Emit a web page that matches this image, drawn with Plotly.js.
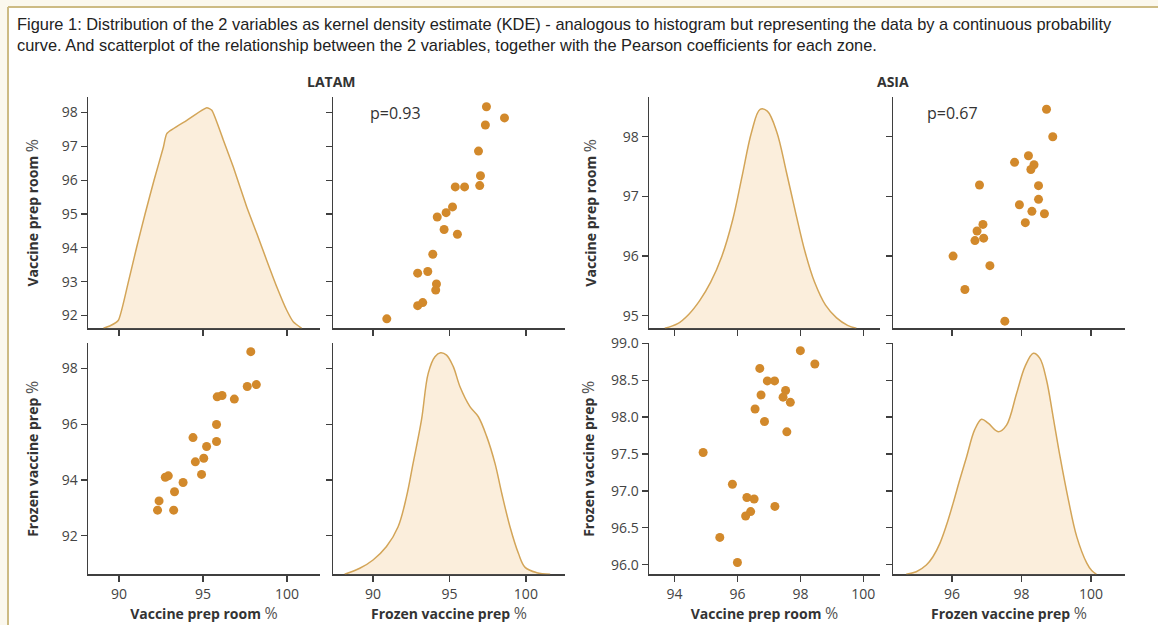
<!DOCTYPE html>
<html>
<head>
<meta charset="utf-8">
<script src="https://cdn.plot.ly/plotly-3.0.1.min.js"></script>
<style>
  html, body { margin: 0; padding: 0; background: #ffffff; }
  #chart { width: 1158px; height: 625px; }
</style>
</head>
<body>
<div id="chart"></div>
<script>
// ---------------- DATA ----------------
const zones = ["LATAM", "ASIA"];
const varNames = ["Vaccine prep room", "Frozen vaccine prep"];
const pearson = ["p=0.93", "p=0.67"];

// LATAM sites: vaccine prep room % and frozen vaccine prep %
const latamVaccine = [98.17, 97.84, 97.63, 96.86, 96.13, 95.84, 95.80, 95.80, 95.21, 95.04, 94.91,
                      94.54, 94.40, 93.81, 93.25, 93.30, 92.93, 92.75, 92.29, 92.38, 91.90];
const latamFrozen  = [97.42, 98.60, 97.35, 96.90, 97.03, 96.98, 95.38, 95.99, 95.20, 94.78, 94.20,
                      94.65, 95.52, 93.91, 92.92, 93.58, 94.15, 94.10, 92.92, 93.25, 90.90];
// the lower LATAM scatter of the reference shows only the first 20 sites
const latamLowerCount = 20;

// ASIA sites
const asiaVaccine = [98.46, 98.00, 97.68, 97.57, 97.53, 97.45, 97.19, 97.18, 96.95, 96.86, 96.75,
                     96.71, 96.56, 96.53, 96.42, 96.30, 96.26, 96.00, 95.84, 95.44, 94.91];
const asiaFrozen  = [98.72, 98.90, 98.20, 97.80, 98.36, 98.27, 96.79, 98.49, 98.49, 97.94, 98.30,
                     98.66, 98.11, 96.89, 96.72, 96.91, 96.66, 96.03, 97.09, 96.37, 97.52];

// KDE curves (value, relative density 0..1 of panel height)
const latamVaccineKdeX = [89.07, 89.5, 89.96, 90.55, 91.05, 91.55, 92.08, 92.64, 92.84, 94.03, 95.22, 95.52,
                          96.21, 96.80, 97.60, 98.20, 98.79, 99.39, 99.98, 100.38, 100.87];
const latamVaccineKdeY = [0.0, 0.012, 0.035, 0.20, 0.352, 0.496, 0.641, 0.785, 0.843, 0.900, 0.955, 0.944,
                          0.814, 0.698, 0.525, 0.410, 0.294, 0.179, 0.078, 0.027, 0.0];

const latamFrozenKdeX = [88.14, 89.13, 90.00, 90.88, 91.64, 92.19, 92.62, 93.17, 93.61, 94.05, 94.42, 94.81,
                         95.25, 95.69, 96.34, 96.89, 97.44, 97.98, 98.42, 98.96, 99.51, 99.95, 100.71, 101.59];
const latamFrozenKdeY = [0.0, 0.026, 0.062, 0.120, 0.206, 0.336, 0.480, 0.668, 0.870, 0.942, 0.959, 0.949,
                         0.899, 0.812, 0.726, 0.682, 0.596, 0.480, 0.351, 0.206, 0.091, 0.030, 0.007, 0.0];

const asiaVaccineKdeX = [93.69, 94.10, 94.45, 94.80, 95.15, 95.50, 95.85, 96.15, 96.45, 96.72, 96.95,
                         97.25, 97.55, 97.85, 98.15, 98.45, 98.80, 99.15, 99.50, 99.78];
const asiaVaccineKdeY = [0.0, 0.02, 0.06, 0.12, 0.20, 0.31, 0.47, 0.66, 0.85, 0.948, 0.94,
                         0.85, 0.68, 0.50, 0.33, 0.20, 0.10, 0.045, 0.013, 0.0];

const asiaFrozenKdeX = [94.68, 94.97, 95.26, 95.45, 95.65, 95.84, 96.03, 96.22, 96.42, 96.65, 96.85, 97.04,
                        97.33, 97.57, 97.86, 98.10, 98.34, 98.53, 98.72, 98.91, 99.11, 99.35, 99.59, 99.88,
                        100.02, 100.16];
const asiaFrozenKdeY = [0.0, 0.011, 0.040, 0.076, 0.134, 0.213, 0.307, 0.408, 0.509, 0.625, 0.671, 0.654,
                        0.617, 0.646, 0.784, 0.899, 0.957, 0.935, 0.841, 0.682, 0.509, 0.322, 0.163, 0.048,
                        0.016, 0.0];

// axis ranges
const latamVaccineRangeX = [88.15, 101.96];
const latamFrozenRangeX  = [87.38, 102.56];
const latamVaccineRangeY = [91.62, 98.45];
const latamFrozenRangeY  = [90.62, 98.90];
const asiaVaccineRangeX  = [93.19, 100.53];
const asiaFrozenRangeX   = [94.30, 100.98];
const asiaVaccineRangeY  = [94.79, 98.66];
const asiaFrozenRangeY   = [95.87, 99.00];

const titleText = "Figure 1: Distribution of the 2 variables as kernel density estimate (KDE) - analogous to histogram but representing the data by a continuous probability<br>curve. And scatterplot of the relationship between the 2 variables, together with the Pearson coefficients for each zone.";

// ---------------- STYLE ----------------
const W = 1158, H = 625;
const dot = "#D2892B";
const kdeLine = "#D3A558";
const kdeFill = "#FBEEDC";
const axisCol = "#3f3f3f";
const tickFont = { family: "Open Sans, sans-serif", size: 14, color: "#444" };
const titleFont = { family: "Open Sans, sans-serif", size: 14, color: "#333" };

const px = v => v / W;
const py = v => 1 - v / H;
const cols = [[88, 320], [333, 565], [649, 880], [893, 1125]].map(c => [px(c[0]), px(c[1])]);
const row1 = [py(328.3), py(97.3)];
const row2 = [py(574.3), py(343.3)];

function axTitle(name) {
  return "<b>" + name + "</b> <span style=\"font-size:16px;color:#555\">%</span>";
}

function xAx(domain, anchor, range, dtick, labels, title) {
  const a = {
    domain: domain, anchor: anchor, range: range, tick0: 0, dtick: dtick,
    showgrid: false, zeroline: false, showline: true, linecolor: axisCol, linewidth: 1.4,
    ticks: "outside", ticklen: 6, tickwidth: 1.3, tickcolor: axisCol,
    showticklabels: labels, tickfont: tickFont, fixedrange: true
  };
  if (title) a.title = { text: title, font: titleFont, standoff: 5 };
  return a;
}
function yAx(domain, anchor, range, dtick, labels, title, fmt, standoff) {
  const a = {
    domain: domain, anchor: anchor, range: range, tick0: 0, dtick: dtick,
    showgrid: false, zeroline: false, showline: true, linecolor: axisCol, linewidth: 1.4,
    ticks: "outside", ticklen: 6, tickwidth: 1.3, tickcolor: axisCol,
    showticklabels: labels, tickfont: tickFont, fixedrange: true
  };
  if (fmt) a.tickformat = fmt;
  if (title) a.title = { text: title, font: titleFont, standoff: standoff };
  return a;
}
// hidden density axis sharing the panel of a diagonal plot
function dens(domain, anchor) {
  return { domain: domain, anchor: anchor, range: [0, 1], visible: false, fixedrange: true,
           showgrid: false, zeroline: false };
}

function scatter(x, y, xa, ya) {
  return { type: "scatter", mode: "markers", x: x, y: y, xaxis: xa, yaxis: ya,
           marker: { color: dot, size: 9, line: { width: 0 } }, hoverinfo: "x+y", showlegend: false };
}
function kde(x, y, xa, ya, smooth) {
  return { type: "scatter", mode: "lines", x: x, y: y, xaxis: xa, yaxis: ya,
           line: { color: kdeLine, width: 1.5, shape: "spline", smoothing: smooth },
           fill: "tozeroy", fillcolor: kdeFill, hoverinfo: "skip", showlegend: false };
}

const traces = [
  kde(latamVaccineKdeX, latamVaccineKdeY, "x", "y9", 0.5),
  scatter(latamFrozen, latamVaccine, "x2", "y2"),
  scatter(latamVaccine.slice(0, latamLowerCount), latamFrozen.slice(0, latamLowerCount), "x3", "y3"),
  kde(latamFrozenKdeX, latamFrozenKdeY, "x4", "y10", 1),
  kde(asiaVaccineKdeX, asiaVaccineKdeY, "x5", "y11", 1),
  scatter(asiaFrozen, asiaVaccine, "x6", "y6"),
  scatter(asiaVaccine, asiaFrozen, "x7", "y7"),
  kde(asiaFrozenKdeX, asiaFrozenKdeY, "x8", "y12", 1),
  // empty traces so that the labelled y axes of the diagonal panels are drawn
  { type: "scatter", mode: "markers", x: [], y: [], xaxis: "x", yaxis: "y", showlegend: false },
  { type: "scatter", mode: "markers", x: [], y: [], xaxis: "x4", yaxis: "y4", showlegend: false },
  { type: "scatter", mode: "markers", x: [], y: [], xaxis: "x5", yaxis: "y5", showlegend: false },
  { type: "scatter", mode: "markers", x: [], y: [], xaxis: "x8", yaxis: "y8", showlegend: false }
];

const layout = {
  width: W, height: H,
  margin: { l: 0, r: 0, t: 0, b: 0 },
  paper_bgcolor: "#ffffff", plot_bgcolor: "rgba(0,0,0,0)",
  showlegend: false,
  font: { family: "Open Sans, sans-serif", color: "#333" },
  title: {
    text: titleText,
    x: px(17), xref: "paper", xanchor: "left",
    y: 1 - 30 / H, yref: "container", yanchor: "top",
    font: { family: "Liberation Sans Narrow, Arial Narrow, sans-serif", size: 16.4, color: "#222" }
  },
  // LATAM
  xaxis:  xAx(cols[0], "y",  latamVaccineRangeX, 5, false),
  yaxis:  yAx(row1, "x",  latamVaccineRangeY, 1, true, axTitle(varNames[0]), null, 20),
  xaxis2: xAx(cols[1], "y2", latamFrozenRangeX, 5, false),
  yaxis2: yAx(row1, "x2", latamVaccineRangeY, 1, false),
  xaxis3: xAx(cols[0], "y3", latamVaccineRangeX, 5, true, axTitle(varNames[0])),
  yaxis3: yAx(row2, "x3", latamFrozenRangeY, 2, true, axTitle(varNames[1]), null, 20),
  xaxis4: xAx(cols[1], "y4", latamFrozenRangeX, 5, true, axTitle(varNames[1])),
  yaxis4: yAx(row2, "x4", latamFrozenRangeY, 2, false),
  // ASIA
  xaxis5: xAx(cols[2], "y5", asiaVaccineRangeX, 2, false),
  yaxis5: yAx(row1, "x5", asiaVaccineRangeY, 1, true, axTitle(varNames[0]), null, 23),
  xaxis6: xAx(cols[3], "y6", asiaFrozenRangeX, 2, false),
  yaxis6: yAx(row1, "x6", asiaVaccineRangeY, 1, false),
  xaxis7: xAx(cols[2], "y7", asiaVaccineRangeX, 2, true, axTitle(varNames[0])),
  yaxis7: yAx(row2, "x7", asiaFrozenRangeY, 0.5, true, axTitle(varNames[1]), ".1f", 13),
  xaxis8: xAx(cols[3], "y8", asiaFrozenRangeX, 2, true, axTitle(varNames[1])),
  yaxis8: yAx(row2, "x8", asiaFrozenRangeY, 0.5, false, null, ".1f"),
  // density axes for the diagonal panels (same place, hidden)
  yaxis9:  dens(row1, "x"),
  yaxis10: dens(row2, "x4"),
  yaxis11: dens(row1, "x5"),
  yaxis12: dens(row2, "x8"),
  annotations: [
    { text: "<b>" + zones[0] + "</b>", xref: "paper", yref: "paper", x: px(331), y: py(82),
      xanchor: "center", yanchor: "middle", showarrow: false,
      font: { family: "Open Sans, sans-serif", size: 14, color: "#333" } },
    { text: "<b>" + zones[1] + "</b>", xref: "paper", yref: "paper", x: px(893), y: py(82),
      xanchor: "center", yanchor: "middle", showarrow: false,
      font: { family: "Open Sans, sans-serif", size: 14, color: "#333" } },
    { text: pearson[0], xref: "x2 domain", yref: "y2 domain", x: 0.15, y: 0.93,
      xanchor: "left", yanchor: "middle", showarrow: false,
      font: { family: "Open Sans, sans-serif", size: 16, color: "#333" } },
    { text: pearson[1], xref: "x6 domain", yref: "y6 domain", x: 0.137, y: 0.93,
      xanchor: "left", yanchor: "middle", showarrow: false,
      font: { family: "Open Sans, sans-serif", size: 16, color: "#333" } }
  ],
  shapes: [
    { type: "rect", xref: "paper", yref: "paper", x0: 0, x1: 1, y0: py(7), y1: 1,
      fillcolor: "#FBF8EE", line: { width: 0 }, layer: "below" },
    { type: "rect", xref: "paper", yref: "paper", x0: 0, x1: px(8), y0: 0, y1: py(7),
      fillcolor: "#FBF8EE", line: { width: 0 }, layer: "below" },
    { type: "line", xref: "paper", yref: "paper", x0: px(8), x1: 1, y0: py(7), y1: py(7),
      line: { color: "#CDBB84", width: 2 } },
    { type: "line", xref: "paper", yref: "paper", x0: px(8), x1: px(8), y0: 0, y1: py(7),
      line: { color: "#CDBB84", width: 2 } }
  ]
};

Plotly.newPlot("chart", traces, layout, { staticPlot: true, displayModeBar: false });
</script>
</body>
</html>
